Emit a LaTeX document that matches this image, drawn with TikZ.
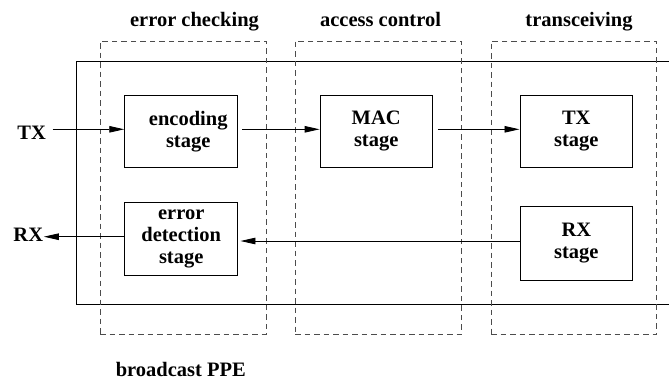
\documentclass[tikz,border=0pt]{standalone}
\usepackage{fontspec}
\setmainfont{Liberation Serif}
\usetikzlibrary{arrows.meta}
\begin{document}
\begin{tikzpicture}[x=1pt,y=-1pt,
  font=\fontsize{20.5}{22}\selectfont\bfseries,
  stagebox/.style={draw, line width=0.9pt, align=center, inner sep=0pt,
                   minimum width=113pt, minimum height=72.7pt},
  groupbox/.style={draw=black!70, line width=0.8pt, dash pattern=on 5.5pt off 4pt,
                   inner sep=0pt, minimum height=293pt},
  frame/.style={line width=0.9pt},
  arr/.style={line width=0.9pt, -{Triangle[length=15pt,width=6.5pt]}},
  lbl/.style={inner sep=0pt}
]
\useasboundingbox (0,0) rectangle (669,381);

% outer frame (open to the right)
\coordinate (ftr) at (669,61);
\coordinate (ftl) at (76,61);
\coordinate (fbl) at (76,304.7);
\coordinate (fbr) at (669,304.7);
\draw[frame] (ftr) -- (ftl) -- (fbl) -- (fbr);

% dashed groups
\node[groupbox, minimum width=166pt]   (g1) at (183,187.5) {};
\node[groupbox, minimum width=166.7pt] (g2) at (378.35,187.5) {};
\node[groupbox, minimum width=165.7pt] (g3) at (573.85,187.5) {};

% group headers
\node[lbl, anchor=base] (h1) at (194.5,26.7) {error checking};
\node[lbl, anchor=base] (h2) at (380.5,26.7) {access control};
\node[lbl, anchor=base] (h3) at (579,26.7) {transceiving};
\node[lbl, anchor=base] (bp) at (180.8,376.7) {broadcast PPE};

% stages
\node[stagebox] (enc) at (181.2,131.3) {\hspace*{14pt}encoding\\\hspace*{14pt}stage};
\node[stagebox, minimum width=112.3pt] (mac) at (376.2,131.3) {MAC\\stage};
\node[stagebox, minimum width=112.7pt] (txs) at (576.3,131.3) {TX\\stage};
\node[stagebox, minimum height=73pt] (err) at (181.2,238.8) {error\\detection\\stage};
\node[stagebox, minimum width=112.7pt, minimum height=73.3pt] (rxs) at (576.3,243.3) {RX\\stage};

% external labels
\node[lbl, inner xsep=6.5pt] (tx) at (31.7,132.3) {TX};
\node[lbl, inner xsep=0.5pt] (rx) at (28.3,235) {RX};

% connectors
\draw[arr] (tx.east |- 0,129.3) -- ([yshift=2pt]enc.west);
\draw[arr, shorten <=4.3pt] ([yshift=2pt]enc.east) -- ([yshift=2pt]mac.west);
\draw[arr, shorten <=5pt] ([yshift=2pt]mac.east) -- ([yshift=2pt]txs.west);
\draw[arr, shorten >=2.3pt] ([yshift=2.3pt]rxs.west) -- ([yshift=2.3pt]rxs.west -| err.east);
\draw[arr] ([yshift=2.1pt]err.west) -- ([yshift=2.1pt]err.west -| rx.east);
\end{tikzpicture}
\end{document}
